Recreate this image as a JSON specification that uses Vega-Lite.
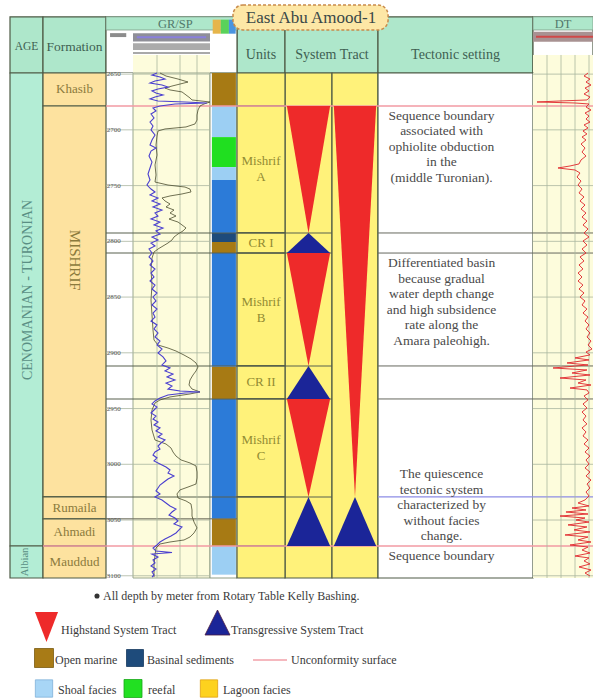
{
  "$schema": "https://vega.github.io/schema/vega-lite/v6.json",
  "padding": 0,
  "spacing": 0,
  "bounds": "flush",
  "background": "#ffffff",
  "config": {
    "view": {"stroke": null},
    "axis": {"disable": true},
    "legend": {"disable": true},
    "font": "Liberation Serif"
  },
  "datasets": {
    "headers": [
      {"label": "AGE", "t0": 0, "t1": 1},
      {"label": "Formation", "t0": 1, "t1": 2},
      {"label": "Units", "t0": 5, "t1": 6},
      {"label": "System Tract", "t0": 6, "t1": 8},
      {"label": "Tectonic setting", "t0": 8, "t1": 9}
    ],
    "logHeaders": [
      {"label": "GR/SP", "t0": 2, "t1": 5},
      {"label": "DT", "t0": 9, "t1": 10}
    ],
    "ages": [
      {"age": "CENOMANIAN - TURONIAN", "top": 2649, "bottom": 3073.3},
      {"age": "Albian", "top": 3073.3, "bottom": 3102}
    ],
    "formations": [
      {"formation": "Khasib", "top": 2649, "bottom": 2678.6},
      {"formation": "MISHRIF", "top": 2678.6, "bottom": 3029.3},
      {"formation": "Rumaila", "top": 3029.3, "bottom": 3048.9},
      {"formation": "Ahmadi", "top": 3048.9, "bottom": 3073.3},
      {"formation": "Mauddud", "top": 3073.3, "bottom": 3102}
    ],
    "units": [
      {"unit": "", "lines": 1, "top": 2649, "bottom": 2678.6},
      {"unit": "Mishrif\nA", "lines": 2, "top": 2678.6, "bottom": 2792.5},
      {"unit": "CR I", "lines": 1, "top": 2792.5, "bottom": 2810.5},
      {"unit": "Mishrif\nB", "lines": 2, "top": 2810.5, "bottom": 2911.8},
      {"unit": "CR II", "lines": 1, "top": 2911.8, "bottom": 2941.4},
      {"unit": "Mishrif\nC", "lines": 2, "top": 2941.4, "bottom": 3029.3},
      {"unit": "", "lines": 1, "top": 3029.3, "bottom": 3073.3},
      {"unit": "", "lines": 1, "top": 3073.3, "bottom": 3102}
    ],
    "lithology": [
      {"facies": "Open marine", "top": 2649, "bottom": 2678.6},
      {"facies": "Shoal facies", "top": 2678.6, "bottom": 2706.5},
      {"facies": "reefal", "top": 2706.5, "bottom": 2733.4},
      {"facies": "Shoal facies", "top": 2733.4, "bottom": 2745},
      {"facies": "Basinal limestone", "top": 2745, "bottom": 2792.5},
      {"facies": "Basinal sediments", "top": 2792.5, "bottom": 2800.6},
      {"facies": "Open marine", "top": 2800.6, "bottom": 2810.5},
      {"facies": "Basinal limestone", "top": 2810.5, "bottom": 2912.6},
      {"facies": "Open marine", "top": 2912.6, "bottom": 2941.4},
      {"facies": "Basinal limestone", "top": 2941.4, "bottom": 3048.9},
      {"facies": "Open marine", "top": 3048.9, "bottom": 3073.3},
      {"facies": "Shoal facies", "top": 3073.3, "bottom": 3099}
    ],
    "systemTracts": [
      {"tract": "HST", "column": 1, "top": 2678.6, "base": 2792.5},
      {"tract": "TST", "column": 1, "top": 2792.5, "base": 2810.5},
      {"tract": "HST", "column": 1, "top": 2810.5, "base": 2911.8},
      {"tract": "TST", "column": 1, "top": 2911.8, "base": 2941.4},
      {"tract": "HST", "column": 1, "top": 2941.4, "base": 3029.3},
      {"tract": "TST", "column": 1, "top": 3029.3, "base": 3073.3},
      {"tract": "HST", "column": 2, "top": 2678.6, "base": 3029.3},
      {"tract": "TST", "column": 2, "top": 3029.3, "base": 3073.3}
    ],
    "surfaces": [
      {"depth": 2678.6, "kind": "unconformity"},
      {"depth": 2792.5, "kind": "unit"},
      {"depth": 2810.5, "kind": "unit"},
      {"depth": 2911.8, "kind": "unit"},
      {"depth": 2941.4, "kind": "unit"},
      {"depth": 3029.3, "kind": "flooding"},
      {"depth": 3048.9, "kind": "formation"},
      {"depth": 3073.3, "kind": "unconformity"}
    ],
    "depthTicks": [
      {"depth": 2650}, {"depth": 2700}, {"depth": 2750}, {"depth": 2800}, {"depth": 2850},
      {"depth": 2900}, {"depth": 2950}, {"depth": 3000}, {"depth": 3050}, {"depth": 3100}
    ],
    "notes": [
      {"depth": 2678.6, "note": "Sequence boundary\nassociated with\nophiolite obduction\nin the\n(middle Turonian)."},
      {"depth": 2810.5, "note": "Differentiated basin\nbecause gradual\nwater depth change\nand high subsidence\nrate along the\nAmara paleohigh."},
      {"depth": 3000, "note": "The quiescence\ntectonic system\ncharacterized by\nwithout facies\nchange."},
      {"depth": 3073.3, "note": "Sequence boundary"}
    ],
    "grGrid": [{"gr": 48}, {"gr": 94}, {"gr": 128}],
    "dtGrid": [{"dt": 120}, {"dt": 100}, {"dt": 80}, {"dt": 60}],
    "gr": [{"depth":2649.0,"gr":48},{"depth":2650.8,"gr":38},{"depth":2652.6,"gr":54},{"depth":2654.4,"gr":64},{"depth":2656.2,"gr":44},{"depth":2658.0,"gr":34},{"depth":2659.8,"gr":58},{"depth":2661.6,"gr":70},{"depth":2663.4,"gr":50},{"depth":2665.1,"gr":38},{"depth":2666.9,"gr":46},{"depth":2668.7,"gr":60},{"depth":2670.5,"gr":44},{"depth":2672.3,"gr":34},{"depth":2674.1,"gr":50},{"depth":2675.0,"gr":104},{"depth":2675.9,"gr":148},{"depth":2676.8,"gr":84},{"depth":2678.6,"gr":54},{"depth":2680.4,"gr":40},{"depth":2683.1,"gr":46},{"depth":2685.8,"gr":36},{"depth":2689.4,"gr":42},{"depth":2693.0,"gr":34},{"depth":2696.5,"gr":40},{"depth":2700.1,"gr":36},{"depth":2704.6,"gr":44},{"depth":2709.1,"gr":38},{"depth":2713.6,"gr":34},{"depth":2716.3,"gr":46},{"depth":2719.0,"gr":36},{"depth":2723.5,"gr":32},{"depth":2728.8,"gr":38},{"depth":2734.2,"gr":34},{"depth":2739.6,"gr":30},{"depth":2745.0,"gr":34},{"depth":2749.5,"gr":28},{"depth":2753.1,"gr":36},{"depth":2755.7,"gr":44},{"depth":2758.4,"gr":34},{"depth":2761.1,"gr":50},{"depth":2763.8,"gr":38},{"depth":2766.5,"gr":54},{"depth":2769.2,"gr":40},{"depth":2771.9,"gr":58},{"depth":2774.6,"gr":44},{"depth":2777.3,"gr":50},{"depth":2780.0,"gr":36},{"depth":2782.7,"gr":54},{"depth":2785.3,"gr":42},{"depth":2788.0,"gr":60},{"depth":2790.7,"gr":46},{"depth":2793.4,"gr":54},{"depth":2796.1,"gr":38},{"depth":2798.8,"gr":50},{"depth":2801.5,"gr":36},{"depth":2804.2,"gr":44},{"depth":2806.9,"gr":32},{"depth":2810.5,"gr":38},{"depth":2814.0,"gr":32},{"depth":2817.6,"gr":40},{"depth":2821.2,"gr":34},{"depth":2824.8,"gr":44},{"depth":2828.4,"gr":36},{"depth":2832.0,"gr":42},{"depth":2835.6,"gr":34},{"depth":2839.2,"gr":44},{"depth":2842.8,"gr":38},{"depth":2846.3,"gr":48},{"depth":2849.9,"gr":40},{"depth":2853.5,"gr":46},{"depth":2857.1,"gr":38},{"depth":2860.7,"gr":48},{"depth":2864.3,"gr":40},{"depth":2867.9,"gr":44},{"depth":2871.5,"gr":36},{"depth":2875.0,"gr":48},{"depth":2878.6,"gr":42},{"depth":2882.2,"gr":50},{"depth":2885.8,"gr":44},{"depth":2889.4,"gr":54},{"depth":2893.0,"gr":48},{"depth":2896.6,"gr":58},{"depth":2900.2,"gr":50},{"depth":2903.7,"gr":60},{"depth":2907.3,"gr":66},{"depth":2910.9,"gr":58},{"depth":2913.6,"gr":74},{"depth":2916.3,"gr":64},{"depth":2919.0,"gr":80},{"depth":2921.7,"gr":68},{"depth":2924.4,"gr":84},{"depth":2927.1,"gr":66},{"depth":2929.8,"gr":78},{"depth":2932.5,"gr":70},{"depth":2934.2,"gr":94},{"depth":2935.1,"gr":134},{"depth":2936.0,"gr":104},{"depth":2937.8,"gr":70},{"depth":2940.5,"gr":54},{"depth":2943.2,"gr":44},{"depth":2945.9,"gr":38},{"depth":2948.6,"gr":48},{"depth":2951.3,"gr":42},{"depth":2954.0,"gr":36},{"depth":2956.7,"gr":46},{"depth":2959.4,"gr":40},{"depth":2962.1,"gr":50},{"depth":2964.7,"gr":42},{"depth":2967.4,"gr":54},{"depth":2970.1,"gr":46},{"depth":2972.8,"gr":58},{"depth":2975.5,"gr":50},{"depth":2978.2,"gr":64},{"depth":2980.9,"gr":56},{"depth":2983.6,"gr":50},{"depth":2986.3,"gr":54},{"depth":2989.0,"gr":44},{"depth":2991.7,"gr":40},{"depth":2994.3,"gr":48},{"depth":2997.0,"gr":42},{"depth":2999.7,"gr":54},{"depth":3002.4,"gr":66},{"depth":3005.1,"gr":74},{"depth":3007.8,"gr":70},{"depth":3010.5,"gr":82},{"depth":3013.2,"gr":70},{"depth":3015.9,"gr":62},{"depth":3018.6,"gr":54},{"depth":3021.3,"gr":50},{"depth":3023.9,"gr":46},{"depth":3026.6,"gr":54},{"depth":3029.3,"gr":44},{"depth":3032.0,"gr":58},{"depth":3034.7,"gr":66},{"depth":3037.4,"gr":74},{"depth":3040.1,"gr":86},{"depth":3042.8,"gr":78},{"depth":3045.5,"gr":72},{"depth":3048.2,"gr":84},{"depth":3050.9,"gr":90},{"depth":3053.5,"gr":82},{"depth":3056.2,"gr":98},{"depth":3058.9,"gr":92},{"depth":3061.6,"gr":86},{"depth":3064.3,"gr":76},{"depth":3067.0,"gr":64},{"depth":3069.7,"gr":54},{"depth":3072.4,"gr":48},{"depth":3075.1,"gr":40},{"depth":3077.8,"gr":46},{"depth":3079.1,"gr":78},{"depth":3080.5,"gr":38},{"depth":3083.1,"gr":50},{"depth":3085.8,"gr":40},{"depth":3088.5,"gr":44},{"depth":3091.2,"gr":36},{"depth":3093.9,"gr":46},{"depth":3096.6,"gr":38},{"depth":3099.3,"gr":42},{"depth":3101.1,"gr":38}],
    "sp": [{"depth":2649.0,"sp":-26},{"depth":2651.7,"sp":-14},{"depth":2654.4,"sp":10},{"depth":2657.1,"sp":30},{"depth":2658.9,"sp":14},{"depth":2660.7,"sp":-2},{"depth":2662.5,"sp":-16},{"depth":2664.2,"sp":-6},{"depth":2666.0,"sp":18},{"depth":2668.7,"sp":26},{"depth":2671.4,"sp":34},{"depth":2673.2,"sp":38},{"depth":2675.0,"sp":74},{"depth":2676.8,"sp":62},{"depth":2678.6,"sp":54},{"depth":2682.2,"sp":50},{"depth":2686.7,"sp":48},{"depth":2691.2,"sp":48},{"depth":2694.7,"sp":44},{"depth":2697.4,"sp":26},{"depth":2699.2,"sp":-16},{"depth":2701.0,"sp":-30},{"depth":2705.5,"sp":-32},{"depth":2713.6,"sp":-34},{"depth":2722.6,"sp":-32},{"depth":2731.5,"sp":-36},{"depth":2740.5,"sp":-34},{"depth":2746.8,"sp":-36},{"depth":2749.5,"sp":-10},{"depth":2751.3,"sp":24},{"depth":2753.1,"sp":34},{"depth":2755.7,"sp":36},{"depth":2757.5,"sp":18},{"depth":2759.3,"sp":-6},{"depth":2761.1,"sp":-22},{"depth":2763.8,"sp":-16},{"depth":2766.5,"sp":-6},{"depth":2769.2,"sp":-14},{"depth":2771.9,"sp":2},{"depth":2774.6,"sp":-6},{"depth":2777.3,"sp":6},{"depth":2780.0,"sp":-8},{"depth":2782.7,"sp":10},{"depth":2785.3,"sp":18},{"depth":2788.0,"sp":26},{"depth":2790.7,"sp":20},{"depth":2793.4,"sp":10},{"depth":2796.1,"sp":2},{"depth":2798.8,"sp":-2},{"depth":2801.5,"sp":-10},{"depth":2804.2,"sp":-20},{"depth":2806.9,"sp":-30},{"depth":2809.6,"sp":-38},{"depth":2815.0,"sp":-42},{"depth":2825.7,"sp":-44},{"depth":2839.2,"sp":-42},{"depth":2852.6,"sp":-44},{"depth":2866.1,"sp":-42},{"depth":2879.5,"sp":-40},{"depth":2888.5,"sp":-38},{"depth":2893.0,"sp":-30},{"depth":2895.7,"sp":-10},{"depth":2898.4,"sp":6},{"depth":2902.0,"sp":22},{"depth":2905.5,"sp":36},{"depth":2909.1,"sp":46},{"depth":2912.7,"sp":50},{"depth":2916.3,"sp":46},{"depth":2919.9,"sp":40},{"depth":2924.4,"sp":34},{"depth":2928.9,"sp":32},{"depth":2932.5,"sp":38},{"depth":2935.1,"sp":54},{"depth":2936.9,"sp":34},{"depth":2939.6,"sp":-6},{"depth":2942.3,"sp":-26},{"depth":2945.0,"sp":-36},{"depth":2951.3,"sp":-42},{"depth":2960.3,"sp":-44},{"depth":2969.2,"sp":-42},{"depth":2978.2,"sp":-36},{"depth":2981.8,"sp":-14},{"depth":2985.4,"sp":-4},{"depth":2989.0,"sp":0},{"depth":2992.6,"sp":6},{"depth":2996.1,"sp":16},{"depth":2998.8,"sp":34},{"depth":3001.5,"sp":46},{"depth":3006.9,"sp":48},{"depth":3012.3,"sp":48},{"depth":3017.7,"sp":46},{"depth":3020.4,"sp":30},{"depth":3023.0,"sp":14},{"depth":3026.6,"sp":8},{"depth":3030.2,"sp":10},{"depth":3032.9,"sp":26},{"depth":3035.6,"sp":36},{"depth":3041.0,"sp":38},{"depth":3046.4,"sp":38},{"depth":3051.8,"sp":42},{"depth":3057.1,"sp":48},{"depth":3061.6,"sp":42},{"depth":3065.2,"sp":34},{"depth":3067.9,"sp":22},{"depth":3069.7,"sp":-6},{"depth":3071.5,"sp":-26},{"depth":3075.1,"sp":-34},{"depth":3081.4,"sp":-36},{"depth":3090.3,"sp":-38},{"depth":3101.1,"sp":-38}],
    "dt": [{"depth":2649.0,"dt":61.4},{"depth":2651.7,"dt":67.1},{"depth":2654.4,"dt":58.6},{"depth":2657.1,"dt":64.3},{"depth":2659.8,"dt":57.1},{"depth":2662.5,"dt":65.7},{"depth":2665.1,"dt":60.0},{"depth":2667.8,"dt":67.1},{"depth":2670.5,"dt":58.6},{"depth":2673.2,"dt":62.9},{"depth":2674.1,"dt":101.4},{"depth":2675.0,"dt":134.3},{"depth":2675.9,"dt":80.0},{"depth":2676.8,"dt":60.0},{"depth":2679.5,"dt":64.3},{"depth":2682.2,"dt":57.1},{"depth":2684.9,"dt":65.7},{"depth":2687.6,"dt":60.0},{"depth":2690.3,"dt":64.3},{"depth":2693.0,"dt":58.6},{"depth":2695.6,"dt":67.1},{"depth":2698.3,"dt":61.4},{"depth":2701.0,"dt":68.6},{"depth":2703.7,"dt":62.9},{"depth":2706.4,"dt":70.0},{"depth":2709.1,"dt":64.3},{"depth":2712.7,"dt":71.4},{"depth":2716.3,"dt":65.7},{"depth":2719.9,"dt":70.0},{"depth":2723.5,"dt":64.3},{"depth":2727.0,"dt":71.4},{"depth":2730.6,"dt":74.3},{"depth":2732.4,"dt":87.1},{"depth":2734.2,"dt":104.3},{"depth":2736.0,"dt":80.0},{"depth":2738.7,"dt":72.9},{"depth":2742.3,"dt":77.1},{"depth":2745.9,"dt":71.4},{"depth":2749.5,"dt":75.7},{"depth":2753.1,"dt":70.0},{"depth":2756.6,"dt":74.3},{"depth":2760.2,"dt":67.1},{"depth":2763.8,"dt":72.9},{"depth":2767.4,"dt":65.7},{"depth":2771.0,"dt":71.4},{"depth":2774.6,"dt":64.3},{"depth":2778.2,"dt":70.0},{"depth":2781.8,"dt":62.9},{"depth":2785.3,"dt":68.6},{"depth":2788.9,"dt":61.4},{"depth":2792.5,"dt":67.1},{"depth":2796.1,"dt":60.0},{"depth":2799.7,"dt":68.6},{"depth":2803.3,"dt":62.9},{"depth":2806.9,"dt":70.0},{"depth":2810.5,"dt":64.3},{"depth":2814.0,"dt":72.9},{"depth":2817.6,"dt":67.1},{"depth":2821.2,"dt":74.3},{"depth":2824.8,"dt":68.6},{"depth":2828.4,"dt":75.7},{"depth":2832.0,"dt":70.0},{"depth":2835.6,"dt":75.7},{"depth":2839.2,"dt":68.6},{"depth":2842.8,"dt":74.3},{"depth":2846.3,"dt":67.1},{"depth":2849.9,"dt":72.9},{"depth":2853.5,"dt":65.7},{"depth":2857.1,"dt":70.0},{"depth":2860.7,"dt":62.9},{"depth":2864.3,"dt":68.6},{"depth":2867.9,"dt":61.4},{"depth":2871.5,"dt":65.7},{"depth":2875.0,"dt":60.0},{"depth":2878.6,"dt":64.3},{"depth":2882.2,"dt":58.6},{"depth":2885.8,"dt":62.9},{"depth":2889.4,"dt":57.1},{"depth":2893.0,"dt":61.4},{"depth":2896.6,"dt":55.7},{"depth":2899.3,"dt":64.3},{"depth":2901.9,"dt":58.6},{"depth":2904.6,"dt":80.0},{"depth":2906.4,"dt":60.0},{"depth":2909.1,"dt":91.4},{"depth":2910.9,"dt":61.4},{"depth":2913.6,"dt":111.4},{"depth":2915.4,"dt":62.9},{"depth":2918.1,"dt":84.3},{"depth":2919.9,"dt":58.6},{"depth":2922.6,"dt":101.4},{"depth":2924.4,"dt":64.3},{"depth":2927.1,"dt":75.7},{"depth":2928.9,"dt":57.1},{"depth":2931.6,"dt":87.1},{"depth":2933.3,"dt":62.9},{"depth":2936.0,"dt":60.0},{"depth":2938.7,"dt":67.1},{"depth":2942.3,"dt":61.4},{"depth":2945.9,"dt":68.6},{"depth":2949.5,"dt":62.9},{"depth":2953.1,"dt":70.0},{"depth":2956.7,"dt":64.3},{"depth":2960.3,"dt":68.6},{"depth":2963.8,"dt":62.9},{"depth":2967.4,"dt":70.0},{"depth":2971.0,"dt":64.3},{"depth":2974.6,"dt":68.6},{"depth":2978.2,"dt":61.4},{"depth":2981.8,"dt":67.1},{"depth":2985.4,"dt":60.0},{"depth":2989.0,"dt":65.7},{"depth":2992.6,"dt":58.6},{"depth":2996.1,"dt":64.3},{"depth":2999.7,"dt":60.0},{"depth":3003.3,"dt":65.7},{"depth":3006.9,"dt":58.6},{"depth":3010.5,"dt":64.3},{"depth":3014.1,"dt":57.1},{"depth":3017.7,"dt":62.9},{"depth":3021.3,"dt":58.6},{"depth":3024.8,"dt":64.3},{"depth":3028.4,"dt":60.0},{"depth":3032.0,"dt":65.7},{"depth":3034.7,"dt":75.7},{"depth":3037.4,"dt":60.0},{"depth":3039.2,"dt":84.3},{"depth":3041.0,"dt":64.3},{"depth":3042.8,"dt":92.9},{"depth":3044.6,"dt":61.4},{"depth":3046.4,"dt":101.4},{"depth":3048.2,"dt":65.7},{"depth":3050.0,"dt":78.6},{"depth":3051.8,"dt":60.0},{"depth":3054.4,"dt":90.0},{"depth":3056.2,"dt":62.9},{"depth":3058.9,"dt":81.4},{"depth":3060.7,"dt":58.6},{"depth":3063.4,"dt":94.3},{"depth":3065.2,"dt":61.4},{"depth":3067.9,"dt":75.7},{"depth":3069.7,"dt":57.1},{"depth":3072.4,"dt":87.1},{"depth":3074.2,"dt":61.4},{"depth":3076.9,"dt":70.0},{"depth":3079.6,"dt":58.6},{"depth":3082.3,"dt":80.0},{"depth":3084.0,"dt":60.0},{"depth":3086.7,"dt":67.1},{"depth":3089.4,"dt":58.6},{"depth":3092.1,"dt":74.3},{"depth":3094.8,"dt":57.1},{"depth":3097.5,"dt":65.7},{"depth":3100.2,"dt":58.6}],
    "legendItems": [
      {"item": "note", "label": "All depth by meter from Rotary Table Kelly Bashing."},
      {"item": "HST", "label": "Highstand System Tract"},
      {"item": "TST", "label": "Transgressive System Tract"},
      {"item": "Open marine", "label": "Open marine"},
      {"item": "Basinal sediments", "label": "Basinal sediments"},
      {"item": "Unconformity surface", "label": "Unconformity surface"},
      {"item": "Shoal facies", "label": "Shoal facies"},
      {"item": "reefal", "label": "reefal"},
      {"item": "Lagoon facies", "label": "Lagoon facies"}
    ]
  },
  "vconcat": [
    {
      "width": 593,
      "height": 73,
      "layer": [
        {
          "layer": [
            {"data": {"name": "headers"}, "mark": {"type": "rect", "fill": "#aee7cb", "stroke": "#4f5b46", "strokeWidth": 1.2},
             "encoding": {"x": {"field": "t0", "type": "quantitative", "scale": {"domain": [0,1,2,3,4,5,6,7,8,9,10], "range": [10,43,106,133,210,237,285,332,378,533,593], "nice": false, "zero": false}}, "x2": {"field": "t1"},
                          "y": {"datum": 0, "type": "quantitative", "scale": {"domain": [-0.3, 1], "reverse": true, "nice": false, "zero": false}}, "y2": {"datum": 1}}},
            {"data": {"name": "logHeaders"}, "mark": {"type": "rect", "fill": "#ffffff", "stroke": "#4f5b46", "strokeWidth": 1.2},
             "encoding": {"x": {"field": "t0", "type": "quantitative", "scale": {"domain": [0,1,2,3,4,5,6,7,8,9,10], "range": [10,43,106,133,210,237,285,332,378,533,593], "nice": false, "zero": false}}, "x2": {"field": "t1"},
                          "y": {"datum": 0, "type": "quantitative", "scale": {"domain": [-0.3, 1], "reverse": true, "nice": false, "zero": false}}, "y2": {"datum": 1}}},
            {"data": {"name": "logHeaders"}, "mark": {"type": "rect", "fill": "#aee7cb", "stroke": "#7f9a86", "strokeWidth": 0.8},
             "encoding": {"x": {"field": "t0", "type": "quantitative", "scale": {"domain": [0,1,2,3,4,5,6,7,8,9,10], "range": [10,43,106,133,210,237,285,332,378,533,593], "nice": false, "zero": false}}, "x2": {"field": "t1"},
                          "y": {"datum": 0, "type": "quantitative", "scale": {"domain": [-0.3, 1], "reverse": true, "nice": false, "zero": false}}, "y2": {"datum": 0.234}}},
            {"data": {"values": [{}]}, "mark": {"type": "rect", "fill": "#e6b54a"},
             "encoding": {"x": {"datum": 4.1, "type": "quantitative", "scale": {"domain": [0,1,2,3,4,5,6,7,8,9,10], "range": [10,43,106,133,210,237,285,332,378,533,593], "nice": false, "zero": false}}, "x2": {"datum": 4.4},
                          "y": {"datum": 0.05, "type": "quantitative", "scale": {"domain": [-0.3, 1], "reverse": true, "nice": false, "zero": false}}, "y2": {"datum": 0.3}}},
            {"data": {"values": [{}]}, "mark": {"type": "rect", "fill": "#5ad25a"},
             "encoding": {"x": {"datum": 4.4, "type": "quantitative", "scale": {"domain": [0,1,2,3,4,5,6,7,8,9,10], "range": [10,43,106,133,210,237,285,332,378,533,593], "nice": false, "zero": false}}, "x2": {"datum": 4.7},
                          "y": {"datum": 0.05, "type": "quantitative", "scale": {"domain": [-0.3, 1], "reverse": true, "nice": false, "zero": false}}, "y2": {"datum": 0.3}}},
            {"data": {"values": [{}]}, "mark": {"type": "rect", "fill": "#4a94e0"},
             "encoding": {"x": {"datum": 4.7, "type": "quantitative", "scale": {"domain": [0,1,2,3,4,5,6,7,8,9,10], "range": [10,43,106,133,210,237,285,332,378,533,593], "nice": false, "zero": false}}, "x2": {"datum": 4.95},
                          "y": {"datum": 0.05, "type": "quantitative", "scale": {"domain": [-0.3, 1], "reverse": true, "nice": false, "zero": false}}, "y2": {"datum": 0.3}}},
            {"data": {"values": [{}]}, "mark": {"type": "rect", "fill": "#fdfcdc"},
             "encoding": {"x": {"datum": 3, "type": "quantitative", "scale": {"domain": [0,1,2,3,4,5,6,7,8,9,10], "range": [10,43,106,133,210,237,285,332,378,533,593], "nice": false, "zero": false}}, "x2": {"datum": 4},
                          "y": {"datum": 0.679, "type": "quantitative", "scale": {"domain": [-0.3, 1], "reverse": true, "nice": false, "zero": false}}, "y2": {"datum": 1}}},
            {"data": {"values": [{}]}, "mark": {"type": "rect", "fill": "#fdfcdc"},
             "encoding": {"x": {"datum": 9, "type": "quantitative", "scale": {"domain": [0,1,2,3,4,5,6,7,8,9,10], "range": [10,43,106,133,210,237,285,332,378,533,593], "nice": false, "zero": false}}, "x2": {"datum": 10},
                          "y": {"datum": 0.679, "type": "quantitative", "scale": {"domain": [-0.3, 1], "reverse": true, "nice": false, "zero": false}}, "y2": {"datum": 1}}},
            {"data": {"values": [{}]}, "mark": {"type": "rect", "fill": "#8f8f98"},
             "encoding": {"x": {"datum": 3, "type": "quantitative", "scale": {"domain": [0,1,2,3,4,5,6,7,8,9,10], "range": [10,43,106,133,210,237,285,332,378,533,593], "nice": false, "zero": false}}, "x2": {"datum": 4},
                          "y": {"datum": 0.29, "type": "quantitative", "scale": {"domain": [-0.3, 1], "reverse": true, "nice": false, "zero": false}}, "y2": {"datum": 0.44}}},
            {"data": {"values": [{}]}, "mark": {"type": "rule", "stroke": "#8a80dc", "strokeWidth": 2},
             "encoding": {"x": {"datum": 3.05, "type": "quantitative", "scale": {"domain": [0,1,2,3,4,5,6,7,8,9,10], "range": [10,43,106,133,210,237,285,332,378,533,593], "nice": false, "zero": false}}, "x2": {"datum": 3.95},
                          "y": {"datum": 0.365, "type": "quantitative", "scale": {"domain": [-0.3, 1], "reverse": true, "nice": false, "zero": false}}}},
            {"data": {"values": [{}]}, "mark": {"type": "rect", "fill": "#ababab"},
             "encoding": {"x": {"datum": 3, "type": "quantitative", "scale": {"domain": [0,1,2,3,4,5,6,7,8,9,10], "range": [10,43,106,133,210,237,285,332,378,533,593], "nice": false, "zero": false}}, "x2": {"datum": 4},
                          "y": {"datum": 0.47, "type": "quantitative", "scale": {"domain": [-0.3, 1], "reverse": true, "nice": false, "zero": false}}, "y2": {"datum": 0.59}}},
            {"data": {"values": [{}]}, "mark": {"type": "rule", "stroke": "#8c8c8c", "strokeWidth": 1.5},
             "encoding": {"x": {"datum": 3, "type": "quantitative", "scale": {"domain": [0,1,2,3,4,5,6,7,8,9,10], "range": [10,43,106,133,210,237,285,332,378,533,593], "nice": false, "zero": false}}, "x2": {"datum": 4},
                          "y": {"datum": 0.645, "type": "quantitative", "scale": {"domain": [-0.3, 1], "reverse": true, "nice": false, "zero": false}}}},
            {"data": {"values": [{}]}, "mark": {"type": "rect", "fill": "#8c8c8c"},
             "encoding": {"x": {"datum": 2.15, "type": "quantitative", "scale": {"domain": [0,1,2,3,4,5,6,7,8,9,10], "range": [10,43,106,133,210,237,285,332,378,533,593], "nice": false, "zero": false}}, "x2": {"datum": 2.75},
                          "y": {"datum": 0.29, "type": "quantitative", "scale": {"domain": [-0.3, 1], "reverse": true, "nice": false, "zero": false}}, "y2": {"datum": 0.36}}},
            {"data": {"values": [{}]}, "mark": {"type": "rect", "fill": "#a89292"},
             "encoding": {"x": {"datum": 9, "type": "quantitative", "scale": {"domain": [0,1,2,3,4,5,6,7,8,9,10], "range": [10,43,106,133,210,237,285,332,378,533,593], "nice": false, "zero": false}}, "x2": {"datum": 10},
                          "y": {"datum": 0.265, "type": "quantitative", "scale": {"domain": [-0.3, 1], "reverse": true, "nice": false, "zero": false}}, "y2": {"datum": 0.443}}},
            {"data": {"values": [{}]}, "mark": {"type": "rule", "stroke": "#d04848", "strokeWidth": 2},
             "encoding": {"x": {"datum": 9.05, "type": "quantitative", "scale": {"domain": [0,1,2,3,4,5,6,7,8,9,10], "range": [10,43,106,133,210,237,285,332,378,533,593], "nice": false, "zero": false}}, "x2": {"datum": 10},
                          "y": {"datum": 0.355, "type": "quantitative", "scale": {"domain": [-0.3, 1], "reverse": true, "nice": false, "zero": false}}}},
            {"data": {"name": "headers"},
             "transform": [{"filter": "datum.label === 'AGE'"}, {"calculate": "(datum.t0 + datum.t1) / 2", "as": "tc"}],
             "mark": {"type": "text", "fontSize": 11.5, "fill": "#3e5f52", "align": "center", "baseline": "middle"},
             "encoding": {"x": {"field": "tc", "type": "quantitative", "scale": {"domain": [0,1,2,3,4,5,6,7,8,9,10], "range": [10,43,106,133,210,237,285,332,378,533,593], "nice": false, "zero": false}},
                          "y": {"datum": 0.54, "type": "quantitative", "scale": {"domain": [-0.3, 1], "reverse": true, "nice": false, "zero": false}}, "text": {"field": "label"}}},
            {"data": {"name": "headers"},
             "transform": [{"filter": "datum.label === 'Formation'"}, {"calculate": "(datum.t0 + datum.t1) / 2", "as": "tc"}],
             "mark": {"type": "text", "fontSize": 13.5, "fill": "#3e5f52", "align": "center", "baseline": "middle"},
             "encoding": {"x": {"field": "tc", "type": "quantitative", "scale": {"domain": [0,1,2,3,4,5,6,7,8,9,10], "range": [10,43,106,133,210,237,285,332,378,533,593], "nice": false, "zero": false}},
                          "y": {"datum": 0.54, "type": "quantitative", "scale": {"domain": [-0.3, 1], "reverse": true, "nice": false, "zero": false}}, "text": {"field": "label"}}},
            {"data": {"name": "headers"},
             "transform": [{"filter": "indexof(['Units', 'System Tract', 'Tectonic setting'], datum.label) >= 0"}, {"calculate": "(datum.t0 + datum.t1) / 2", "as": "tc"}],
             "mark": {"type": "text", "fontSize": 14, "fill": "#3e5f52", "align": "center", "baseline": "middle"},
             "encoding": {"x": {"field": "tc", "type": "quantitative", "scale": {"domain": [0,1,2,3,4,5,6,7,8,9,10], "range": [10,43,106,133,210,237,285,332,378,533,593], "nice": false, "zero": false}},
                          "y": {"datum": 0.68, "type": "quantitative", "scale": {"domain": [-0.3, 1], "reverse": true, "nice": false, "zero": false}}, "text": {"field": "label"}}},
            {"data": {"name": "logHeaders"},
             "transform": [{"calculate": "datum.label === 'DT' ? 9.5 : 3.55", "as": "tc"}],
             "mark": {"type": "text", "fontSize": 12.5, "fill": "#52786b", "align": "center", "baseline": "middle"},
             "encoding": {"x": {"field": "tc", "type": "quantitative", "scale": {"domain": [0,1,2,3,4,5,6,7,8,9,10], "range": [10,43,106,133,210,237,285,332,378,533,593], "nice": false, "zero": false}},
                          "y": {"datum": 0.125, "type": "quantitative", "scale": {"domain": [-0.3, 1], "reverse": true, "nice": false, "zero": false}}, "text": {"field": "label"}}},
            {"data": {"values": [{}]}, "mark": {"type": "rect", "fill": "#fde7a6", "stroke": "#c98a4a", "strokeWidth": 1.5, "strokeDash": [3, 2], "cornerRadius": 10},
             "encoding": {"x": {"datum": 4.852, "type": "quantitative", "scale": {"domain": [0,1,2,3,4,5,6,7,8,9,10], "range": [10,43,106,133,210,237,285,332,378,533,593], "nice": false, "zero": false}}, "x2": {"datum": 8.065},
                          "y": {"datum": -0.211, "type": "quantitative", "scale": {"domain": [-0.3, 1], "reverse": true, "nice": false, "zero": false}}, "y2": {"datum": 0.234}}},
            {"data": {"values": [{"well": "East Abu Amood-1"}]},
             "mark": {"type": "text", "fontSize": 17, "fill": "#3a4848", "align": "center", "baseline": "middle"},
             "encoding": {"x": {"datum": 6.553, "type": "quantitative", "scale": {"domain": [0,1,2,3,4,5,6,7,8,9,10], "range": [10,43,106,133,210,237,285,332,378,533,593], "nice": false, "zero": false}},
                          "y": {"datum": 0.012, "type": "quantitative", "scale": {"domain": [-0.3, 1], "reverse": true, "nice": false, "zero": false}}, "text": {"field": "well"}}}
          ]
        },
        {"data": {"name": "grGrid"}, "mark": {"type": "rule", "stroke": "#aab7a0", "strokeWidth": 0.8},
         "encoding": {"x": {"field": "gr", "type": "quantitative", "scale": {"domain": [0, 150], "range": [133, 208], "nice": false, "zero": false}},
                      "y": {"datum": 0.679, "type": "quantitative", "scale": {"domain": [-0.3, 1], "reverse": true, "nice": false, "zero": false}}, "y2": {"datum": 1}}},
        {"data": {"name": "dtGrid"}, "mark": {"type": "rule", "stroke": "#aab7a0", "strokeWidth": 0.8},
         "encoding": {"x": {"field": "dt", "type": "quantitative", "scale": {"domain": [140, 40], "range": [533, 603], "nice": false, "zero": false}},
                      "y": {"datum": 0.679, "type": "quantitative", "scale": {"domain": [-0.3, 1], "reverse": true, "nice": false, "zero": false}}, "y2": {"datum": 1}}}
      ],
      "resolve": {"scale": {"x": "independent"}}
    },
    {
      "width": 593,
      "height": 505,
      "layer": [
        {
          "layer": [
            {"data": {"values": [{}]}, "mark": {"type": "rect", "fill": "#ffffff"},
             "encoding": {"x": {"datum": 2, "type": "quantitative", "scale": {"domain": [0,1,2,3,4,5,6,7,8,9,10], "range": [10,43,106,133,210,237,285,332,378,533,593], "nice": false, "zero": false}}, "x2": {"datum": 3},
                          "y": {"datum": 2649, "type": "quantitative", "scale": {"domain": [2649, 3102], "reverse": true, "nice": false, "zero": false}}, "y2": {"datum": 3102}}},
            {"data": {"values": [{}]}, "mark": {"type": "rect", "fill": "#fdfcdc", "stroke": "#9aa78f", "strokeWidth": 1},
             "encoding": {"x": {"datum": 3, "type": "quantitative", "scale": {"domain": [0,1,2,3,4,5,6,7,8,9,10], "range": [10,43,106,133,210,237,285,332,378,533,593], "nice": false, "zero": false}}, "x2": {"datum": 4},
                          "y": {"datum": 2649, "type": "quantitative", "scale": {"domain": [2649, 3102], "reverse": true, "nice": false, "zero": false}}, "y2": {"datum": 3102}}},
            {"data": {"values": [{}]}, "mark": {"type": "rect", "fill": "#ffffff", "stroke": "#8f9c84", "strokeWidth": 1},
             "encoding": {"x": {"datum": 4, "type": "quantitative", "scale": {"domain": [0,1,2,3,4,5,6,7,8,9,10], "range": [10,43,106,133,210,237,285,332,378,533,593], "nice": false, "zero": false}}, "x2": {"datum": 5},
                          "y": {"datum": 2649, "type": "quantitative", "scale": {"domain": [2649, 3102], "reverse": true, "nice": false, "zero": false}}, "y2": {"datum": 3102}}},
            {"data": {"values": [{}]}, "mark": {"type": "rect", "fill": "#fff27a", "stroke": "#4f5b46", "strokeWidth": 1.2},
             "encoding": {"x": {"datum": 6, "type": "quantitative", "scale": {"domain": [0,1,2,3,4,5,6,7,8,9,10], "range": [10,43,106,133,210,237,285,332,378,533,593], "nice": false, "zero": false}}, "x2": {"datum": 7},
                          "y": {"datum": 2649, "type": "quantitative", "scale": {"domain": [2649, 3102], "reverse": true, "nice": false, "zero": false}}, "y2": {"datum": 3102}}},
            {"data": {"values": [{}]}, "mark": {"type": "rect", "fill": "#fff27a", "stroke": "#4f5b46", "strokeWidth": 1.2},
             "encoding": {"x": {"datum": 7, "type": "quantitative", "scale": {"domain": [0,1,2,3,4,5,6,7,8,9,10], "range": [10,43,106,133,210,237,285,332,378,533,593], "nice": false, "zero": false}}, "x2": {"datum": 8},
                          "y": {"datum": 2649, "type": "quantitative", "scale": {"domain": [2649, 3102], "reverse": true, "nice": false, "zero": false}}, "y2": {"datum": 3102}}},
            {"data": {"values": [{}]}, "mark": {"type": "rect", "fill": "#ffffff", "stroke": "#4f5b46", "strokeWidth": 1.2},
             "encoding": {"x": {"datum": 8, "type": "quantitative", "scale": {"domain": [0,1,2,3,4,5,6,7,8,9,10], "range": [10,43,106,133,210,237,285,332,378,533,593], "nice": false, "zero": false}}, "x2": {"datum": 9},
                          "y": {"datum": 2649, "type": "quantitative", "scale": {"domain": [2649, 3102], "reverse": true, "nice": false, "zero": false}}, "y2": {"datum": 3102}}},
            {"data": {"values": [{}]}, "mark": {"type": "rect", "fill": "#fdfcdc"},
             "encoding": {"x": {"datum": 9, "type": "quantitative", "scale": {"domain": [0,1,2,3,4,5,6,7,8,9,10], "range": [10,43,106,133,210,237,285,332,378,533,593], "nice": false, "zero": false}}, "x2": {"datum": 10},
                          "y": {"datum": 2649, "type": "quantitative", "scale": {"domain": [2649, 3102], "reverse": true, "nice": false, "zero": false}}, "y2": {"datum": 3102}}},
            {"data": {"name": "ages"}, "mark": {"type": "rect", "fill": "#b3edd5", "stroke": "#4f5b46", "strokeWidth": 1.2},
             "encoding": {"x": {"datum": 0, "type": "quantitative", "scale": {"domain": [0,1,2,3,4,5,6,7,8,9,10], "range": [10,43,106,133,210,237,285,332,378,533,593], "nice": false, "zero": false}}, "x2": {"datum": 1},
                          "y": {"field": "top", "type": "quantitative", "scale": {"domain": [2649, 3102], "reverse": true, "nice": false, "zero": false}}, "y2": {"field": "bottom"}}},
            {"data": {"name": "formations"}, "mark": {"type": "rect", "fill": "#fde29f", "stroke": "#4f5b46", "strokeWidth": 1.2},
             "encoding": {"x": {"datum": 1, "type": "quantitative", "scale": {"domain": [0,1,2,3,4,5,6,7,8,9,10], "range": [10,43,106,133,210,237,285,332,378,533,593], "nice": false, "zero": false}}, "x2": {"datum": 2},
                          "y": {"field": "top", "type": "quantitative", "scale": {"domain": [2649, 3102], "reverse": true, "nice": false, "zero": false}}, "y2": {"field": "bottom"}}},
            {"data": {"name": "units"}, "mark": {"type": "rect", "fill": "#fff27a", "stroke": "#4f5b46", "strokeWidth": 1.2},
             "encoding": {"x": {"datum": 5, "type": "quantitative", "scale": {"domain": [0,1,2,3,4,5,6,7,8,9,10], "range": [10,43,106,133,210,237,285,332,378,533,593], "nice": false, "zero": false}}, "x2": {"datum": 6},
                          "y": {"field": "top", "type": "quantitative", "scale": {"domain": [2649, 3102], "reverse": true, "nice": false, "zero": false}}, "y2": {"field": "bottom"}}},
            {"data": {"name": "depthTicks"}, "mark": {"type": "rule", "stroke": "#a9b59f", "strokeWidth": 0.8},
             "encoding": {"x": {"datum": 2, "type": "quantitative", "scale": {"domain": [0,1,2,3,4,5,6,7,8,9,10], "range": [10,43,106,133,210,237,285,332,378,533,593], "nice": false, "zero": false}}, "x2": {"datum": 4},
                          "y": {"field": "depth", "type": "quantitative", "scale": {"domain": [2649, 3102], "reverse": true, "nice": false, "zero": false}}}},
            {"data": {"name": "depthTicks"}, "mark": {"type": "rule", "stroke": "#a9b59f", "strokeWidth": 0.8},
             "encoding": {"x": {"datum": 9, "type": "quantitative", "scale": {"domain": [0,1,2,3,4,5,6,7,8,9,10], "range": [10,43,106,133,210,237,285,332,378,533,593], "nice": false, "zero": false}}, "x2": {"datum": 10},
                          "y": {"field": "depth", "type": "quantitative", "scale": {"domain": [2649, 3102], "reverse": true, "nice": false, "zero": false}}}},
            {"data": {"name": "lithology"}, "mark": {"type": "rect"},
             "encoding": {"x": {"datum": 4.07, "type": "quantitative", "scale": {"domain": [0,1,2,3,4,5,6,7,8,9,10], "range": [10,43,106,133,210,237,285,332,378,533,593], "nice": false, "zero": false}}, "x2": {"datum": 4.96},
                          "y": {"field": "top", "type": "quantitative", "scale": {"domain": [2649, 3102], "reverse": true, "nice": false, "zero": false}}, "y2": {"field": "bottom"},
                          "fill": {"field": "facies", "type": "nominal", "scale": {"domain": ["Open marine", "Basinal sediments", "Basinal limestone", "Shoal facies", "reefal"], "range": ["#a77a14", "#1e4b7b", "#2c7bd8", "#9ccff3", "#20df20"]}}}},
            {"data": {"name": "surfaces"}, "transform": [{"filter": "datum.kind === 'unit' || datum.kind === 'flooding'"}],
             "mark": {"type": "rule", "stroke": "#59604f", "strokeWidth": 1.1},
             "encoding": {"x": {"datum": 2, "type": "quantitative", "scale": {"domain": [0,1,2,3,4,5,6,7,8,9,10], "range": [10,43,106,133,210,237,285,332,378,533,593], "nice": false, "zero": false}}, "x2": {"datum": 7},
                          "y": {"field": "depth", "type": "quantitative", "scale": {"domain": [2649, 3102], "reverse": true, "nice": false, "zero": false}}}},
            {"data": {"name": "surfaces"}, "transform": [{"filter": "datum.kind === 'unit'"}],
             "mark": {"type": "rule", "stroke": "#66685e", "strokeWidth": 1},
             "encoding": {"x": {"datum": 8, "type": "quantitative", "scale": {"domain": [0,1,2,3,4,5,6,7,8,9,10], "range": [10,43,106,133,210,237,285,332,378,533,593], "nice": false, "zero": false}}, "x2": {"datum": 10},
                          "y": {"field": "depth", "type": "quantitative", "scale": {"domain": [2649, 3102], "reverse": true, "nice": false, "zero": false}}}},
            {"data": {"name": "surfaces"}, "transform": [{"filter": "datum.kind === 'flooding'"}],
             "mark": {"type": "rule", "stroke": "#8c8ce6", "strokeWidth": 1.2},
             "encoding": {"x": {"datum": 8, "type": "quantitative", "scale": {"domain": [0,1,2,3,4,5,6,7,8,9,10], "range": [10,43,106,133,210,237,285,332,378,533,593], "nice": false, "zero": false}}, "x2": {"datum": 10},
                          "y": {"field": "depth", "type": "quantitative", "scale": {"domain": [2649, 3102], "reverse": true, "nice": false, "zero": false}}}},
            {"data": {"name": "surfaces"}, "transform": [{"filter": "datum.kind === 'formation'"}],
             "mark": {"type": "rule", "stroke": "#6b6b5a", "strokeWidth": 1},
             "encoding": {"x": {"datum": 2, "type": "quantitative", "scale": {"domain": [0,1,2,3,4,5,6,7,8,9,10], "range": [10,43,106,133,210,237,285,332,378,533,593], "nice": false, "zero": false}}, "x2": {"datum": 5},
                          "y": {"field": "depth", "type": "quantitative", "scale": {"domain": [2649, 3102], "reverse": true, "nice": false, "zero": false}}}},
            {"data": {"name": "surfaces"}, "transform": [{"filter": "datum.kind === 'unconformity' && datum.depth < 2700"}],
             "mark": {"type": "rule", "stroke": "#f29aa3", "strokeWidth": 1.3},
             "encoding": {"x": {"datum": 2, "type": "quantitative", "scale": {"domain": [0,1,2,3,4,5,6,7,8,9,10], "range": [10,43,106,133,210,237,285,332,378,533,593], "nice": false, "zero": false}}, "x2": {"datum": 10},
                          "y": {"field": "depth", "type": "quantitative", "scale": {"domain": [2649, 3102], "reverse": true, "nice": false, "zero": false}}}},
            {"data": {"name": "surfaces"}, "transform": [{"filter": "datum.kind === 'unconformity' && datum.depth > 3000"}],
             "mark": {"type": "rule", "stroke": "#f29aa3", "strokeWidth": 1.3},
             "encoding": {"x": {"datum": 1, "type": "quantitative", "scale": {"domain": [0,1,2,3,4,5,6,7,8,9,10], "range": [10,43,106,133,210,237,285,332,378,533,593], "nice": false, "zero": false}}, "x2": {"datum": 10},
                          "y": {"field": "depth", "type": "quantitative", "scale": {"domain": [2649, 3102], "reverse": true, "nice": false, "zero": false}}}},
            {"data": {"name": "systemTracts"},
             "transform": [
               {"window": [{"op": "row_number", "as": "id"}]},
               {"fold": ["top", "base"], "as": ["edge", "depth"]},
               {"calculate": "(datum.tract === 'HST') === (datum.edge === 'top') ? 0.46 : 0", "as": "half"},
               {"calculate": "5.5 + datum.column - datum.half", "as": "left"},
               {"calculate": "5.5 + datum.column + datum.half", "as": "right"}
             ],
             "mark": {"type": "area", "orient": "horizontal"},
             "encoding": {"x": {"field": "left", "type": "quantitative", "stack": null, "scale": {"domain": [0,1,2,3,4,5,6,7,8,9,10], "range": [10,43,106,133,210,237,285,332,378,533,593], "nice": false, "zero": false}}, "x2": {"field": "right"},
                          "y": {"field": "depth", "type": "quantitative", "scale": {"domain": [2649, 3102], "reverse": true, "nice": false, "zero": false}},
                          "detail": {"field": "id"},
                          "fill": {"field": "tract", "type": "nominal", "scale": {"domain": ["HST", "TST"], "range": ["#ee2a2a", "#1b2598"]}}}},
            {"data": {"name": "depthTicks"}, "mark": {"type": "text", "fontSize": 7, "fill": "#555555", "align": "left", "baseline": "middle"},
             "encoding": {"x": {"datum": 2.03, "type": "quantitative", "scale": {"domain": [0,1,2,3,4,5,6,7,8,9,10], "range": [10,43,106,133,210,237,285,332,378,533,593], "nice": false, "zero": false}},
                          "y": {"field": "depth", "type": "quantitative", "scale": {"domain": [2649, 3102], "reverse": true, "nice": false, "zero": false}}, "text": {"field": "depth"}}},
            {"data": {"name": "ages"}, "transform": [{"filter": "datum.age !== 'Albian'"}],
             "mark": {"type": "text", "fontSize": 14, "fill": "#5a8f84", "align": "center", "baseline": "middle", "angle": 270},
             "encoding": {"x": {"datum": 0.55, "type": "quantitative", "scale": {"domain": [0,1,2,3,4,5,6,7,8,9,10], "range": [10,43,106,133,210,237,285,332,378,533,593], "nice": false, "zero": false}},
                          "y": {"datum": 2843.6, "type": "quantitative", "scale": {"domain": [2649, 3102], "reverse": true, "nice": false, "zero": false}}, "text": {"field": "age"}}},
            {"data": {"name": "ages"}, "transform": [{"filter": "datum.age === 'Albian'"}, {"calculate": "(datum.top + datum.bottom) / 2", "as": "mid"}],
             "mark": {"type": "text", "fontSize": 10.5, "fill": "#5a8f84", "align": "center", "baseline": "middle", "angle": 270},
             "encoding": {"x": {"datum": 0.45, "type": "quantitative", "scale": {"domain": [0,1,2,3,4,5,6,7,8,9,10], "range": [10,43,106,133,210,237,285,332,378,533,593], "nice": false, "zero": false}},
                          "y": {"field": "mid", "type": "quantitative", "scale": {"domain": [2649, 3102], "reverse": true, "nice": false, "zero": false}}, "text": {"field": "age"}}},
            {"data": {"name": "formations"}, "transform": [{"filter": "datum.formation !== 'MISHRIF'"}, {"calculate": "(datum.top + datum.bottom) / 2", "as": "mid"}],
             "mark": {"type": "text", "fontSize": 13, "fill": "#8b7a3c", "align": "center", "baseline": "middle"},
             "encoding": {"x": {"datum": 1.5, "type": "quantitative", "scale": {"domain": [0,1,2,3,4,5,6,7,8,9,10], "range": [10,43,106,133,210,237,285,332,378,533,593], "nice": false, "zero": false}},
                          "y": {"field": "mid", "type": "quantitative", "scale": {"domain": [2649, 3102], "reverse": true, "nice": false, "zero": false}}, "text": {"field": "formation"}}},
            {"data": {"name": "formations"}, "transform": [{"filter": "datum.formation === 'MISHRIF'"}],
             "mark": {"type": "text", "fontSize": 15, "fill": "#8b7a3c", "align": "center", "baseline": "middle", "angle": 90},
             "encoding": {"x": {"datum": 1.5, "type": "quantitative", "scale": {"domain": [0,1,2,3,4,5,6,7,8,9,10], "range": [10,43,106,133,210,237,285,332,378,533,593], "nice": false, "zero": false}},
                          "y": {"datum": 2817, "type": "quantitative", "scale": {"domain": [2649, 3102], "reverse": true, "nice": false, "zero": false}}, "text": {"field": "formation"}}},
            {"data": {"name": "units"}, "transform": [{"filter": "datum.lines === 1"}, {"calculate": "(datum.top + datum.bottom) / 2", "as": "mid"}],
             "mark": {"type": "text", "fontSize": 13, "fill": "#928b33", "align": "center", "baseline": "middle"},
             "encoding": {"x": {"datum": 5.5, "type": "quantitative", "scale": {"domain": [0,1,2,3,4,5,6,7,8,9,10], "range": [10,43,106,133,210,237,285,332,378,533,593], "nice": false, "zero": false}},
                          "y": {"field": "mid", "type": "quantitative", "scale": {"domain": [2649, 3102], "reverse": true, "nice": false, "zero": false}}, "text": {"field": "unit"}}},
            {"data": {"name": "units"}, "transform": [{"filter": "datum.lines === 2"}, {"calculate": "(datum.top + datum.bottom) / 2", "as": "mid"}],
             "mark": {"type": "text", "fontSize": 13, "lineHeight": 16, "lineBreak": "\n", "fill": "#928b33", "align": "center", "baseline": "middle", "dy": -8},
             "encoding": {"x": {"datum": 5.5, "type": "quantitative", "scale": {"domain": [0,1,2,3,4,5,6,7,8,9,10], "range": [10,43,106,133,210,237,285,332,378,533,593], "nice": false, "zero": false}},
                          "y": {"field": "mid", "type": "quantitative", "scale": {"domain": [2649, 3102], "reverse": true, "nice": false, "zero": false}}, "text": {"field": "unit"}}},
            {"data": {"name": "notes"},
             "mark": {"type": "text", "fontSize": 13.5, "lineHeight": 15.5, "lineBreak": "\n", "fill": "#4a4a4a", "align": "center", "baseline": "top", "dy": 3},
             "encoding": {"x": {"datum": 8.41, "type": "quantitative", "scale": {"domain": [0,1,2,3,4,5,6,7,8,9,10], "range": [10,43,106,133,210,237,285,332,378,533,593], "nice": false, "zero": false}},
                          "y": {"field": "depth", "type": "quantitative", "scale": {"domain": [2649, 3102], "reverse": true, "nice": false, "zero": false}}, "text": {"field": "note"}}}
          ],
          "resolve": {"scale": {"fill": "independent", "stroke": "independent"}}
        },
        {"data": {"name": "grGrid"}, "mark": {"type": "rule", "stroke": "#aab7a0", "strokeWidth": 0.8},
         "encoding": {"x": {"field": "gr", "type": "quantitative", "scale": {"domain": [0, 150], "range": [133, 208], "nice": false, "zero": false}},
                      "y": {"datum": 2649, "type": "quantitative", "scale": {"domain": [2649, 3102], "reverse": true, "nice": false, "zero": false}}, "y2": {"datum": 3102}}},
        {"data": {"name": "sp"}, "mark": {"type": "line", "color": "#4b4d2e", "strokeWidth": 0.8},
         "encoding": {"x": {"field": "sp", "type": "quantitative", "scale": {"domain": [-80, 70], "range": [133, 208], "nice": false, "zero": false}},
                      "y": {"field": "depth", "type": "quantitative", "scale": {"domain": [2649, 3102], "reverse": true, "nice": false, "zero": false}},
                      "order": {"field": "depth", "type": "quantitative"}}},
        {"data": {"name": "gr"}, "mark": {"type": "line", "color": "#4a3fcf", "strokeWidth": 1.1},
         "encoding": {"x": {"field": "gr", "type": "quantitative", "scale": {"domain": [0, 150], "range": [133, 208], "nice": false, "zero": false}},
                      "y": {"field": "depth", "type": "quantitative", "scale": {"domain": [2649, 3102], "reverse": true, "nice": false, "zero": false}},
                      "order": {"field": "depth", "type": "quantitative"}}},
        {"data": {"name": "dtGrid"}, "mark": {"type": "rule", "stroke": "#aab7a0", "strokeWidth": 0.8},
         "encoding": {"x": {"field": "dt", "type": "quantitative", "scale": {"domain": [140, 40], "range": [533, 603], "nice": false, "zero": false}},
                      "y": {"datum": 2649, "type": "quantitative", "scale": {"domain": [2649, 3102], "reverse": true, "nice": false, "zero": false}}, "y2": {"datum": 3102}}},
        {"data": {"name": "dt"}, "mark": {"type": "line", "color": "#e0262b", "strokeWidth": 0.9},
         "encoding": {"x": {"field": "dt", "type": "quantitative", "scale": {"domain": [140, 40], "range": [533, 603], "nice": false, "zero": false}},
                      "y": {"field": "depth", "type": "quantitative", "scale": {"domain": [2649, 3102], "reverse": true, "nice": false, "zero": false}},
                      "order": {"field": "depth", "type": "quantitative"}}}
      ],
      "resolve": {"scale": {"x": "independent", "fill": "independent", "stroke": "independent"}}
    },
    {
      "width": 593,
      "height": 120,
      "data": {"name": "legendItems"},
      "layer": [
        {"transform": [{"filter": "datum.item === 'note'"}],
         "mark": {"type": "point", "shape": "circle", "size": 26, "filled": true, "fill": "#333333", "strokeWidth": 0, "opacity": 1},
         "encoding": {"x": {"datum": 97, "type": "quantitative", "scale": {"domain": [0, 593], "nice": false, "zero": false}}, "y": {"datum": 18, "type": "quantitative", "scale": {"domain": [0, 120], "reverse": true, "nice": false, "zero": false}}}},
        {"transform": [{"filter": "datum.item === 'note'"}],
         "mark": {"type": "text", "fontSize": 12, "fill": "#3a3a3a", "align": "left", "baseline": "middle"},
         "encoding": {"x": {"datum": 103, "type": "quantitative", "scale": {"domain": [0, 593], "nice": false, "zero": false}}, "y": {"datum": 18, "type": "quantitative", "scale": {"domain": [0, 120], "reverse": true, "nice": false, "zero": false}}, "text": {"field": "label"}}},
        {"transform": [{"filter": "datum.item === 'HST'"}],
         "mark": {"type": "point", "shape": "M-0.77,-1L0.77,-1L0,1Z", "size": 900, "filled": true, "fill": "#ee2a2a", "strokeWidth": 0, "opacity": 1},
         "encoding": {"x": {"datum": 46.5, "type": "quantitative", "scale": {"domain": [0, 593], "nice": false, "zero": false}}, "y": {"datum": 49, "type": "quantitative", "scale": {"domain": [0, 120], "reverse": true, "nice": false, "zero": false}}}},
        {"transform": [{"filter": "datum.item === 'HST'"}],
         "mark": {"type": "text", "fontSize": 12, "fill": "#3a3a3a", "align": "left", "baseline": "middle"},
         "encoding": {"x": {"datum": 61, "type": "quantitative", "scale": {"domain": [0, 593], "nice": false, "zero": false}}, "y": {"datum": 52, "type": "quantitative", "scale": {"domain": [0, 120], "reverse": true, "nice": false, "zero": false}}, "text": {"field": "label"}}},
        {"transform": [{"filter": "datum.item === 'TST'"}],
         "mark": {"type": "point", "shape": "M0,-1L1,1L-1,1Z", "size": 625, "filled": true, "fill": "#1b2598", "stroke": "#4a1a40", "strokeWidth": 0.8, "opacity": 1},
         "encoding": {"x": {"datum": 217.5, "type": "quantitative", "scale": {"domain": [0, 593], "nice": false, "zero": false}}, "y": {"datum": 44.5, "type": "quantitative", "scale": {"domain": [0, 120], "reverse": true, "nice": false, "zero": false}}}},
        {"transform": [{"filter": "datum.item === 'TST'"}],
         "mark": {"type": "text", "fontSize": 12, "fill": "#3a3a3a", "align": "left", "baseline": "middle"},
         "encoding": {"x": {"datum": 231, "type": "quantitative", "scale": {"domain": [0, 593], "nice": false, "zero": false}}, "y": {"datum": 52, "type": "quantitative", "scale": {"domain": [0, 120], "reverse": true, "nice": false, "zero": false}}, "text": {"field": "label"}}},
        {"transform": [{"filter": "datum.item === 'Open marine'"}],
         "mark": {"type": "point", "shape": "square", "size": 361, "filled": true, "fill": "#a87b16", "stroke": "#7a5a10", "strokeWidth": 0.8, "opacity": 1},
         "encoding": {"x": {"datum": 44, "type": "quantitative", "scale": {"domain": [0, 593], "nice": false, "zero": false}}, "y": {"datum": 80, "type": "quantitative", "scale": {"domain": [0, 120], "reverse": true, "nice": false, "zero": false}}}},
        {"transform": [{"filter": "datum.item === 'Open marine'"}],
         "mark": {"type": "text", "fontSize": 12, "fill": "#3a3a3a", "align": "left", "baseline": "middle"},
         "encoding": {"x": {"datum": 55, "type": "quantitative", "scale": {"domain": [0, 593], "nice": false, "zero": false}}, "y": {"datum": 82, "type": "quantitative", "scale": {"domain": [0, 120], "reverse": true, "nice": false, "zero": false}}, "text": {"field": "label"}}},
        {"transform": [{"filter": "datum.item === 'Basinal sediments'"}],
         "mark": {"type": "point", "shape": "square", "size": 289, "filled": true, "fill": "#1e4b7b", "stroke": "#163a60", "strokeWidth": 0.8, "opacity": 1},
         "encoding": {"x": {"datum": 135, "type": "quantitative", "scale": {"domain": [0, 593], "nice": false, "zero": false}}, "y": {"datum": 80, "type": "quantitative", "scale": {"domain": [0, 120], "reverse": true, "nice": false, "zero": false}}}},
        {"transform": [{"filter": "datum.item === 'Basinal sediments'"}],
         "mark": {"type": "text", "fontSize": 12, "fill": "#3a3a3a", "align": "left", "baseline": "middle"},
         "encoding": {"x": {"datum": 147, "type": "quantitative", "scale": {"domain": [0, 593], "nice": false, "zero": false}}, "y": {"datum": 82, "type": "quantitative", "scale": {"domain": [0, 120], "reverse": true, "nice": false, "zero": false}}, "text": {"field": "label"}}},
        {"transform": [{"filter": "datum.item === 'Unconformity surface'"}],
         "mark": {"type": "rule", "stroke": "#f2a0a8", "strokeWidth": 1.5},
         "encoding": {"x": {"datum": 253, "type": "quantitative", "scale": {"domain": [0, 593], "nice": false, "zero": false}}, "x2": {"datum": 287}, "y": {"datum": 82, "type": "quantitative", "scale": {"domain": [0, 120], "reverse": true, "nice": false, "zero": false}}}},
        {"transform": [{"filter": "datum.item === 'Unconformity surface'"}],
         "mark": {"type": "text", "fontSize": 12, "fill": "#3a3a3a", "align": "left", "baseline": "middle"},
         "encoding": {"x": {"datum": 291, "type": "quantitative", "scale": {"domain": [0, 593], "nice": false, "zero": false}}, "y": {"datum": 82, "type": "quantitative", "scale": {"domain": [0, 120], "reverse": true, "nice": false, "zero": false}}, "text": {"field": "label"}}},
        {"transform": [{"filter": "datum.item === 'Shoal facies'"}],
         "mark": {"type": "point", "shape": "square", "size": 300, "filled": true, "fill": "#a8d6f6", "stroke": "#7fb0d8", "strokeWidth": 0.8, "opacity": 1},
         "encoding": {"x": {"datum": 44, "type": "quantitative", "scale": {"domain": [0, 593], "nice": false, "zero": false}}, "y": {"datum": 110.5, "type": "quantitative", "scale": {"domain": [0, 120], "reverse": true, "nice": false, "zero": false}}}},
        {"transform": [{"filter": "datum.item === 'Shoal facies'"}],
         "mark": {"type": "text", "fontSize": 12, "fill": "#3a3a3a", "align": "left", "baseline": "middle"},
         "encoding": {"x": {"datum": 58, "type": "quantitative", "scale": {"domain": [0, 593], "nice": false, "zero": false}}, "y": {"datum": 112, "type": "quantitative", "scale": {"domain": [0, 120], "reverse": true, "nice": false, "zero": false}}, "text": {"field": "label"}}},
        {"transform": [{"filter": "datum.item === 'reefal'"}],
         "mark": {"type": "point", "shape": "square", "size": 324, "filled": true, "fill": "#22e022", "stroke": "#18a818", "strokeWidth": 0.8, "opacity": 1},
         "encoding": {"x": {"datum": 133, "type": "quantitative", "scale": {"domain": [0, 593], "nice": false, "zero": false}}, "y": {"datum": 110.5, "type": "quantitative", "scale": {"domain": [0, 120], "reverse": true, "nice": false, "zero": false}}}},
        {"transform": [{"filter": "datum.item === 'reefal'"}],
         "mark": {"type": "text", "fontSize": 12, "fill": "#3a3a3a", "align": "left", "baseline": "middle"},
         "encoding": {"x": {"datum": 148, "type": "quantitative", "scale": {"domain": [0, 593], "nice": false, "zero": false}}, "y": {"datum": 112, "type": "quantitative", "scale": {"domain": [0, 120], "reverse": true, "nice": false, "zero": false}}, "text": {"field": "label"}}},
        {"transform": [{"filter": "datum.item === 'Lagoon facies'"}],
         "mark": {"type": "point", "shape": "square", "size": 300, "filled": true, "fill": "#fdd21e", "stroke": "#e0a010", "strokeWidth": 0.8, "opacity": 1},
         "encoding": {"x": {"datum": 209, "type": "quantitative", "scale": {"domain": [0, 593], "nice": false, "zero": false}}, "y": {"datum": 110.5, "type": "quantitative", "scale": {"domain": [0, 120], "reverse": true, "nice": false, "zero": false}}}},
        {"transform": [{"filter": "datum.item === 'Lagoon facies'"}],
         "mark": {"type": "text", "fontSize": 12, "fill": "#3a3a3a", "align": "left", "baseline": "middle"},
         "encoding": {"x": {"datum": 223, "type": "quantitative", "scale": {"domain": [0, 593], "nice": false, "zero": false}}, "y": {"datum": 112, "type": "quantitative", "scale": {"domain": [0, 120], "reverse": true, "nice": false, "zero": false}}, "text": {"field": "label"}}}
      ]
    }
  ],
  "resolve": {"scale": {"fill": "independent", "stroke": "independent"}}
}
